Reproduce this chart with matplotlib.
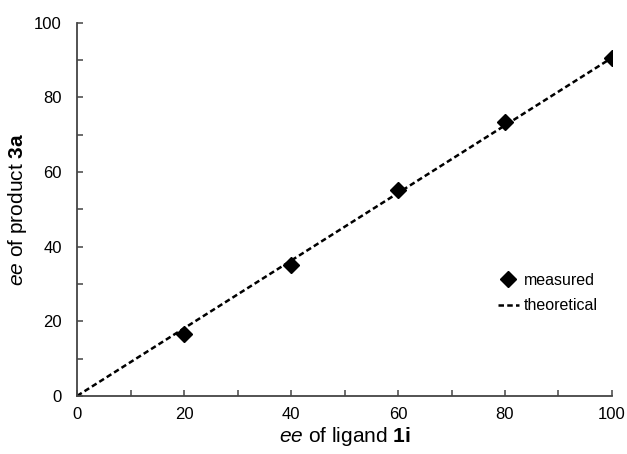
import matplotlib
matplotlib.use("Agg")
import matplotlib.pyplot as plt

plt.rcParams['font.family'] = ['Liberation Sans', 'DejaVu Sans']
plt.rcParams['mathtext.fontset'] = 'custom'
plt.rcParams['mathtext.rm'] = 'Liberation Sans'
plt.rcParams['mathtext.it'] = 'Liberation Sans:italic'
plt.rcParams['mathtext.bf'] = 'Liberation Sans:bold'

ligand_ee = [20, 40, 60, 80, 100]
product_ee = [16.5, 35.0, 55.2, 73.5, 90.6]
theory_x = [0, 100]
theory_y = [0, 90.6]

fig = plt.figure(figsize=(6.27, 4.54), dpi=100)
ax = fig.add_axes([0.123, 0.128, 0.853, 0.822])

ax.plot(theory_x, theory_y, linestyle=(0, (2.2, 1.3)), color='black', lw=1.8, label='theoretical', zorder=2)
ax.plot(ligand_ee, product_ee, linestyle='none', marker='D', markersize=8.5, color='black', label='measured', zorder=3)

ax.set_xlim(0, 100)
ax.set_ylim(0, 100)
ax.set_xticks(range(0, 101, 20))
ax.set_yticks(range(0, 101, 20))
ax.set_xticks(range(0, 101, 10), minor=True)
ax.set_yticks(range(0, 101, 10), minor=True)
ax.tick_params(which='both', direction='in', length=4, width=1.1, labelsize=12, color='#444444')
ax.tick_params(axis='x', pad=8)
ax.tick_params(axis='y', pad=11)
for s in ['top', 'right']:
    ax.spines[s].set_visible(False)
for s in ['left', 'bottom']:
    ax.spines[s].set_linewidth(1.3)
    ax.spines[s].set_color('#444444')

ax.set_xlabel(r'$\mathit{ee}$ of ligand $\mathbf{1i}$', fontsize=15, labelpad=2)
ax.set_ylabel(r'$\mathit{ee}$ of product $\mathbf{3a}$', fontsize=15, labelpad=4)

handles, labels = ax.get_legend_handles_labels()
ax.legend(handles[::-1], labels[::-1], loc='center left', bbox_to_anchor=(0.76, 0.275),
          frameon=False, fontsize=11.5, handlelength=1.3, handletextpad=0.3, labelspacing=0.65)

fig.savefig('out.png', dpi=100)
